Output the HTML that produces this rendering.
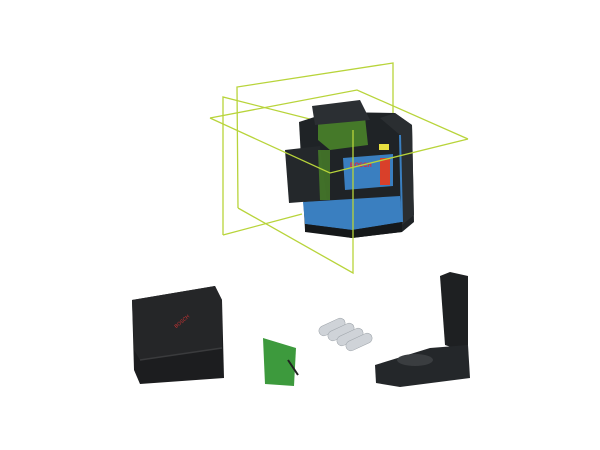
<!DOCTYPE html>
<html><head><style>html,body{margin:0;padding:0;background:#fff;width:600px;height:450px;overflow:hidden}</style></head>
<body>
<svg width="600" height="450" viewBox="0 0 600 450" xmlns="http://www.w3.org/2000/svg">
<rect width="600" height="450" fill="#fff"/>
<g stroke="#b8d43a" stroke-width="1.3" fill="none">
<polyline points="223,235 223,97 353,130"/>
<line x1="223" y1="235" x2="302" y2="214"/>
<polyline points="238,208 237,87 393,63 393,160"/>
<polyline points="210,118 357,90 468,139"/>
</g>
<path d="M299,122 L330,112 L395,113 L412,125 L414,222 L402,232 L352,238 L305,230 Z" fill="#1f2326"/>
<path d="M303,202 L400,196 L402,222 L352,230 L305,224 Z" fill="#3a7fc0"/>
<path d="M305,224 L352,230 L402,222 L402,232 L352,238 L305,232 Z" fill="#15181a"/>
<path d="M380,118 L395,113 L412,125 L414,215 L402,225 L400,135 Z" fill="#2a2e31"/>
<line x1="400" y1="135" x2="402" y2="222" stroke="#3a7fc0" stroke-width="2"/>
<path d="M318,120 L365,117 L368,145 L330,150 L318,140 Z" fill="#4f8f2a" opacity="0.8"/>
<path d="M312,106 L360,100 L370,120 L315,125 Z" fill="#2b2f33"/>
<path d="M285,150 L320,146 L327,200 L289,203 Z" fill="#24282b"/>
<path d="M318,150 L330,150 L330,200 L320,200 Z" fill="#4f8f2a" opacity="0.7"/>
<path d="M343,158 L393,154 L393,186 L345,190 Z" fill="#3a7fc0"/>
<text x="350" y="167" font-family="Liberation Sans,sans-serif" font-size="6" font-weight="bold" fill="#e23">BOSCH</text>
<rect x="380" y="158" width="10" height="27" fill="#d9402a"/>
<rect x="379" y="144" width="10" height="6" fill="#e8e040"/>
<g stroke="#b8d43a" stroke-width="1.3" fill="none">
<polyline points="238,208 353,273 353,130"/>
<polyline points="210,118 330,173 468,139"/>
</g>
<path d="M132,300 L215,286 L222,300 L224,378 L140,384 L134,370 Z" fill="#1c1d1f"/>
<path d="M132,300 L215,286 L222,300 L222,348 L140,360 L134,350 Z" fill="#252628"/>
<path d="M140,360 L222,348" stroke="#3a3b3d" stroke-width="1.5"/>
<text x="175" y="325" font-family="Liberation Sans,sans-serif" font-size="5" fill="#c33" transform="rotate(-40 180 325)">BOSCH</text>
<path d="M263,338 L296,348 L294,386 L265,384 Z" fill="#3d9a3d"/>
<line x1="288" y1="360" x2="298" y2="375" stroke="#222" stroke-width="2"/>
<g fill="#cfd3d8" stroke="#9aa0a6" stroke-width="0.5">
<rect x="318" y="322" width="28" height="10" rx="5" transform="rotate(-25 332 327)"/>
<rect x="327" y="327" width="28" height="10" rx="5" transform="rotate(-25 341 332)"/>
<rect x="336" y="332" width="28" height="10" rx="5" transform="rotate(-25 350 337)"/>
<rect x="345" y="337" width="28" height="10" rx="5" transform="rotate(-25 359 342)"/>
</g>
<path d="M440,276 L450,272 L468,276 L468,345 L460,350 L445,345 Z" fill="#1e2022"/>
<path d="M375,365 L430,348 L468,345 L470,378 L400,387 L376,383 Z" fill="#24272a"/>
<ellipse cx="415" cy="360" rx="18" ry="6" fill="#3a3d40"/>
</svg>
</body></html>
